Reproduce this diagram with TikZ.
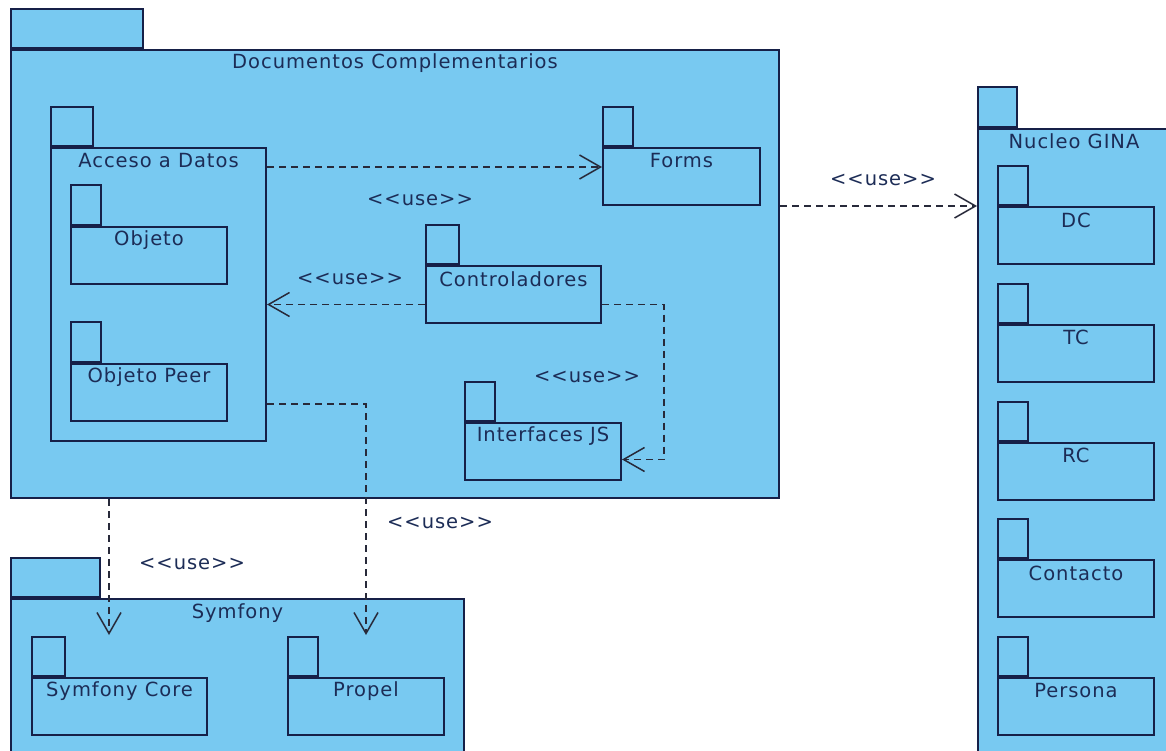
\documentclass[tikz,border=0pt]{standalone}
\usepackage{fontspec}
\setmainfont{DejaVu Sans}[LetterSpace=5]
\usetikzlibrary{arrows.meta,positioning}
\definecolor{pkgblue}{RGB}{120,201,241}
\definecolor{pkgline}{RGB}{22,32,72}
\definecolor{pkgtext}{RGB}{28,44,86}
\definecolor{deplink}{RGB}{40,42,58}
\tikzset{
  pkg/.style={
    draw=pkgline,
    fill=pkgblue,
    line width=2pt,
    inner sep=0pt,
    anchor=north west
  },
  pkgtab/.style={pkg,anchor=south west,minimum width=30pt,minimum height=39pt},
  pkgtitle/.style={text=pkgtext,inner sep=0pt,yshift=-14pt},
  dep/.style={
    draw=deplink,
    line width=1.5pt,
    dash pattern=on 7pt off 5pt,
    -{Straight Barb[length=21pt,width=24pt,line width=1.5pt]}
  },
  deplabel/.style={text=pkgtext,inner sep=0pt}
}

\begin{document}
\begin{tikzpicture}[x=1pt,y=-1pt,font=\fontsize{19.5}{22}\selectfont]
  \fill[white] (0,0) rectangle (1166,751);
  \useasboundingbox (0,0) rectangle (1166,751);
  \clip (0,0) rectangle (1166,751);

  % Documentos Complementarios
  \node[pkg,minimum width=768pt,minimum height=448pt] (doc) at (10,49) {};
  \node[pkgtab,minimum width=132pt] (doctab) at (doc.north west) {};
  \node[pkgtitle] (doctitle) at (doc.north) {Documentos Complementarios};

  \node[pkg,minimum width=215pt,minimum height=293pt] (acc) at (50,147) {};
  \node[pkgtab,minimum width=42pt] (acctab) at (acc.north west) {};
  \node[pkgtitle] (acctitle) at (acc.north) {Acceso a Datos};

  \node[pkg,minimum width=156pt,minimum height=57pt] (obj) at (70,226) {};
  \node[pkgtab,minimum height=40pt] (objtab) at (obj.north west) {};
  \node[pkgtitle] (objtitle) at (obj.north) {Objeto};

  \node[pkg,minimum width=156pt,minimum height=57pt] (objp) at (70,363) {};
  \node[pkgtab,minimum height=40pt] (objptab) at (objp.north west) {};
  \node[pkgtitle] (objptitle) at (objp.north) {Objeto Peer};

  \node[pkg,minimum width=157pt,minimum height=57pt] (forms) at (602,147) {};
  \node[pkgtab] (formstab) at (forms.north west) {};
  \node[pkgtitle] (formstitle) at (forms.north) {Forms};

  \node[pkg,minimum width=175pt,minimum height=57pt] (ctrl) at (425,265) {};
  \node[pkgtab,minimum width=33pt] (ctrltab) at (ctrl.north west) {};
  \node[pkgtitle] (ctrltitle) at (ctrl.north) {Controladores};

  \node[pkg,minimum width=156pt,minimum height=57pt] (ifjs) at (464,422) {};
  \node[pkgtab] (ifjstab) at (ifjs.north west) {};
  \node[pkgtitle] (ifjstitle) at (ifjs.north) {Interfaces JS};

  % Symfony
  \node[pkg,minimum width=453pt,minimum height=200pt] (sym) at (10,598) {};
  \node[pkgtab,minimum width=89pt] (symtab) at (sym.north west) {};
  \node[pkgtitle,yshift=-1pt] (symtitle) at (sym.north) {Symfony};

  \node[pkg,minimum width=175pt,minimum height=57pt] (core) at (31,677) {};
  \node[pkgtab,minimum width=33pt] (coretab) at (core.north west) {};
  \node[pkgtitle] (coretitle) at (core.north) {Symfony Core};

  \node[pkg,minimum width=156pt,minimum height=57pt] (prop) at (287,677) {};
  \node[pkgtab] (proptab) at (prop.north west) {};
  \node[pkgtitle] (proptitle) at (prop.north) {Propel};

  % Nucleo GINA
  \node[pkg,minimum width=192pt,minimum height=640pt] (nuc) at (977,128) {};
  \node[pkgtab,minimum width=39pt,minimum height=40pt] (nuctab) at (nuc.north west) {};
  \node[pkgtitle,yshift=1pt] (nuctitle) at (nuc.north) {Nucleo GINA};

  \foreach \n/\t [count=\i from 0] in {dc/DC,tc/TC,rc/RC,cont/Contacto,pers/Persona} {
    \node[pkg,minimum width=156pt,minimum height=57pt] (\n) at (997,206+117.75*\i) {};
    \node[pkgtab] (\n tab) at (\n.north west) {};
    \node[pkgtitle] (\n title) at (\n.north) {\t};
  }

  % dependencies
  \coordinate (symtip) at (109,635);
  \coordinate (proptip) at (366,635);

  \draw[dep] ([yshift=-20pt]acc.north east) -- ([yshift=-20pt]forms.north west);
  \draw[dep] ([yshift=-10pt]ctrl.west) -- ([yshift=-10pt]acc.east);
  \draw[dep] ([yshift=-10pt]ctrl.east) -- ++(62pt,0) |- ([yshift=-8pt]ifjs.east);
  \draw[dep] (doc.east |- dc.north) -- (nuc.west |- dc.north);
  \draw[dep] (doc.south -| symtip) -- (symtip);
  \draw[dep] ([yshift=38pt]acc.south east) -| (proptip);

  \node[deplabel] (use1) at (420,200) {<{}<use>{}>};
  \node[deplabel] (use2) at (350,279) {<{}<use>{}>};
  \node[deplabel] (use3) at (587,377) {<{}<use>{}>};
  \node[deplabel] (use4) at (883,180) {<{}<use>{}>};
  \node[deplabel] (use5) at (192,564) {<{}<use>{}>};
  \node[deplabel] (use6) at (440,523) {<{}<use>{}>};
\end{tikzpicture}
\end{document}
